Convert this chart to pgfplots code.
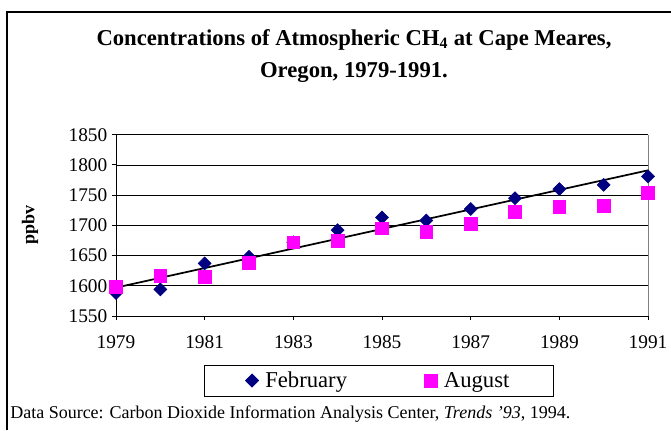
\documentclass[border=0pt]{standalone}
\usepackage{pgfplots}
\pgfplotsset{compat=1.18}
\usepackage{fontspec}
\setmainfont{Liberation Serif}
\definecolor{febblue}{RGB}{0,0,128}
\definecolor{augmag}{RGB}{255,0,255}
\begin{document}
\begin{tikzpicture}
\path[use as bounding box] (0,0) rectangle (503.25pt,322.5pt);
\draw[line width=0.8pt] (5.25pt,0) -- (5.25pt,313.5pt) -- (503.25pt,313.5pt);
\node[align=center,font=\bfseries\fontsize{17}{24}\selectfont] at (265.5pt,280.5pt)
  {Concentrations of Atmospheric CH\textsubscript{4} at Cape Meares,\\Oregon, 1979-1991.};
\node[rotate=90,font=\bfseries\fontsize{13.5}{15}\selectfont] at (22.5pt,153.75pt) {ppbv};
\node[anchor=base west,font=\fontsize{13.5}{15}\selectfont,inner sep=0pt] at (7.5pt,9pt)
  {Data Source: Carbon Dioxide Information Analysis Center, \textit{Trends '93}, 1994.};
\begin{axis}[
  at={(87pt,85.5pt)}, anchor=south west,
  width=399pt, height=136pt, scale only axis,
  xmin=1979, xmax=1991, ymin=1550, ymax=1850,
  xtick={1979,1981,...,1991},
  ytick={1550,1600,...,1850},
  axis x line*=bottom, axis y line*=left,
  axis line style={black,line width=0.6pt},
  ymajorgrids, grid style={black,line width=0.5pt},
  tick align=outside, major tick length=3pt,
  tick style={black,line width=0.6pt},
  /pgf/number format/assume math mode=true,
  /pgf/number format/1000 sep=,
  ticklabel style={font=\fontsize{14.5}{16}\selectfont},
  xticklabel style={yshift=-8pt},
  legend columns=2,
  legend style={at={(0.494,-0.356)},anchor=center,draw=black,line width=0.6pt,
    font=\fontsize{17}{19}\selectfont,
    inner xsep=31pt, inner ysep=3pt,
    /tikz/every odd column/.append style={column sep=3pt},
    /tikz/every even column/.append style={column sep=56pt}},
  legend image code/.code={\draw[#1] plot coordinates {(0pt,0pt)};},
  clip=false,
]
\draw[gray,line width=0.6pt] (axis cs:1991,1550) -- (axis cs:1991,1850);
\addplot[only marks, mark=square*, mark size=3.45pt, mark options={rotate=45}, color=febblue] coordinates {
(1979,1588) (1980,1594) (1981,1637) (1982,1648) (1983,1672) (1984,1692)
(1985,1713) (1986,1708) (1987,1727) (1988,1745) (1989,1760) (1990,1767) (1991,1781)
};
\addlegendentry{February}
\addplot[only marks, mark=square*, mark size=4.8pt, color=augmag] coordinates {
(1979,1598) (1980,1617) (1981,1615) (1982,1638) (1983,1672) (1984,1675)
(1985,1695) (1986,1689) (1987,1703) (1988,1722) (1989,1731) (1990,1733) (1991,1754)
};
\addlegendentry{August}
\addplot[black, line width=1.3pt, forget plot] coordinates {(1979,1597) (1991,1791)};
\end{axis}
\end{tikzpicture}
\end{document}
